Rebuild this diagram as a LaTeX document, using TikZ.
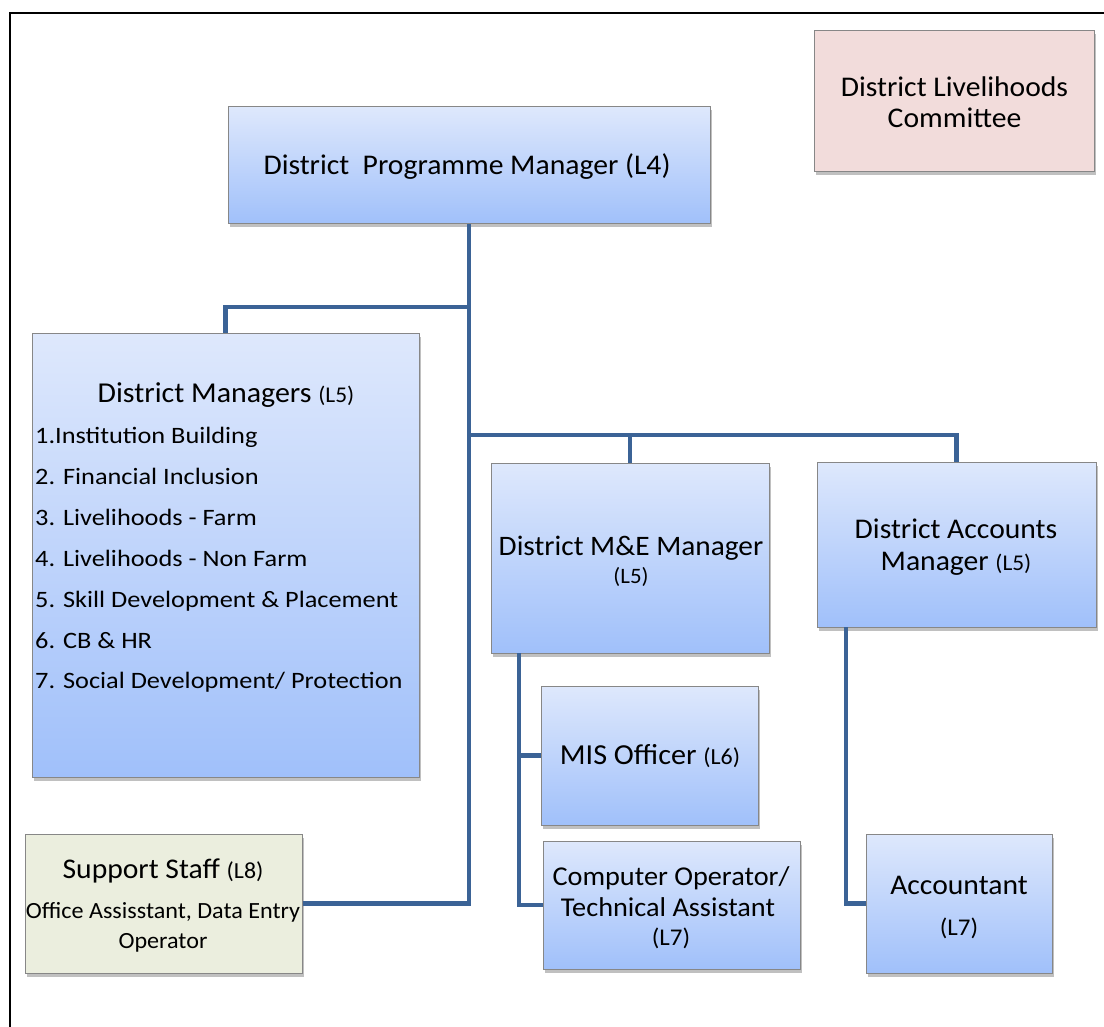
\documentclass[tikz,border=0pt]{standalone}
\usepackage{fontspec}
\setmainfont[FakeStretch=1.04]{Carlito}
\newfontfamily\listfont[FakeStretch=1.12]{Carlito}
\usetikzlibrary{shadows}
\definecolor{connc}{RGB}{59,99,150}
\definecolor{btop}{RGB}{222,232,252}
\definecolor{bbot}{RGB}{160,192,250}
\definecolor{pinkf}{RGB}{242,220,219}
\definecolor{greenf}{RGB}{235,238,222}
\definecolor{bord}{RGB}{135,135,135}
\newcommand\fsz[1]{\fontsize{#1}{#1}\selectfont}
\begin{document}
\begin{tikzpicture}[x=1pt,y=-1pt,
  boxbase/.style={draw=bord, line width=1pt, inner sep=0pt,
    drop shadow={shadow xshift=2pt, shadow yshift=-3.5pt, opacity=0.35, fill=black!70}},
  bluebox/.style={boxbase, top color=btop, bottom color=bbot},
  pinkbox/.style={boxbase, fill=pinkf},
  greenbox/.style={boxbase, fill=greenf},
  txt/.style={inner sep=0pt, anchor=base},
  ltxt/.style={inner sep=0pt, anchor=base west, font=\listfont\fsz{23.5}},
  conn/.style={draw=connc, line width=4.5pt}]
\useasboundingbox (0,0) rectangle (1104,1027);
\fill[white] (0,0) rectangle (1104,1027);
% frame
\draw[line width=2pt] (10,1027) -- (10,13) -- (1104,13);

% boxes
\node[bluebox, minimum width=482pt, minimum height=117pt] (dpm) at (469,165.5) {};
\node[pinkbox, minimum width=280pt, minimum height=141pt] (dlc) at (954,101.5) {};
\node[bluebox, minimum width=387pt, minimum height=443pt] (dm) at (225.5,555.5) {};
\node[bluebox, minimum width=278pt, minimum height=190pt] (me) at (630,558) {};
\node[bluebox, minimum width=279pt, minimum height=165pt] (am) at (956.5,544.5) {};
\node[bluebox, minimum width=217pt, minimum height=139pt] (mis) at (649.5,755.5) {};
\node[bluebox, minimum width=257pt, minimum height=128pt] (co) at (671.5,905) {};
\node[bluebox, minimum width=186pt, minimum height=139pt] (acc) at (959,903.5) {};
\node[greenbox, minimum width=277pt, minimum height=139pt] (ss) at (163.5,903.5) {};

% texts
\node[txt, font=\fsz{28.5}] (t-dpm) at (467,175) {District\ \ Programme Manager (L4)};
\node[txt, font=\fsz{28.5}] (t-dlc1) at (954.5,96.5) {District Livelihoods};
\node[txt, font=\fsz{28.5}] (t-dlc2) at (954.5,128) {Committee};
\node[txt, font=\fsz{28.8}] (t-dm) at (226,402) {District Managers {\fsz{22.5}(L5)}};
\node[ltxt] (l1) at (35,443) {1.Institution Building};
\node[ltxt] (l2) at (35,484) {2. Financial Inclusion};
\node[ltxt] (l3) at (35,525) {3. Livelihoods - Farm};
\node[ltxt] (l4) at (35,566) {4. Livelihoods - Non Farm};
\node[ltxt] (l5) at (35,607) {5. Skill Development \& Placement};
\node[ltxt] (l6) at (35,648) {6. CB \& HR};
\node[ltxt] (l7) at (35,688) {7. Social Development/ Protection};
\node[txt, font=\fsz{28.2}] (t-me1) at (631,555) {District M\&E Manager};
\node[txt, font=\fsz{22}] (t-me2) at (631,583) {(L5)};
\node[txt, font=\fsz{28.5}] (t-am1) at (956,538) {District Accounts};
\node[txt, font=\fsz{28.5}] (t-am2) at (956,570) {Manager {\fsz{22.5}(L5)}};
\node[txt, font=\fsz{29}] (t-mis) at (650,764) {MIS Officer {\fsz{23}(L6)}};
\node[txt, font=\fsz{27.2}] (t-co1) at (671,885) {Computer Operator/};
\node[txt, font=\fsz{27.2}] (t-co2) at (668,916) {Technical Assistant};
\node[txt, font=\fsz{24}] (t-co3) at (671,945) {(L7)};
\node[txt, font=\fsz{28.5}] (t-acc1) at (959,894) {Accountant};
\node[txt, font=\fsz{24}] (t-acc2) at (959,935) {(L7)};
\node[txt, font=\fsz{28.5}] (t-ss1) at (163,878) {Support Staff {\fsz{23}(L8)}};
\node[txt, font=\fsz{23.2}] (t-ss2) at (163,918) {Office Assisstant, Data Entry};
\node[txt, font=\fsz{23.2}] (t-ss3) at (163,948) {Operator};

% connectors
\coordinate (j1) at (dpm.south |- 0,307);
\coordinate (j2) at (dpm.south |- 0,435);
\coordinate (k1) at (519,653);
\coordinate (k2) at (846,627);
\draw[conn] (dpm.south) |- (ss.east);
\draw[conn] (j1) -| (dm.north);
\draw[conn] (j2) -| (me.north);
\draw[conn] (j2) -| (am.north);
\draw[conn] (k1) |- (mis.west);
\draw[conn] (k1) |- (co.west);
\draw[conn] (k2) |- (acc.west);
\end{tikzpicture}
\end{document}
